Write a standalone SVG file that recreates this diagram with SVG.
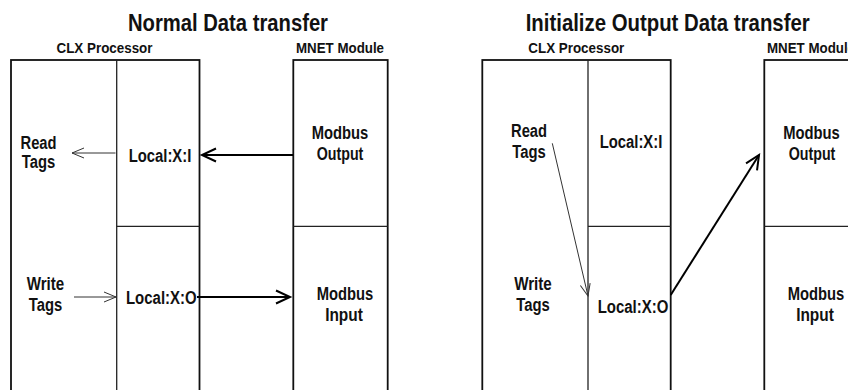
<svg xmlns="http://www.w3.org/2000/svg" width="848" height="390" viewBox="0 0 848 390">
<style>
text{font-family:"Liberation Sans",Arial,sans-serif;font-weight:bold;fill:#111;text-anchor:middle}
.title{font-size:24px}
.hdr{font-size:15.5px}
.lbl{font-size:18px}
.box{fill:none;stroke:#111;stroke-width:1.8}
.mid{fill:none;stroke:#222;stroke-width:1.3}
.thin{stroke:#333;stroke-width:1;fill:none}
.thick{stroke:#000;stroke-width:2;fill:none}
</style>
<defs>
<marker id="ah-thin" markerUnits="userSpaceOnUse" markerWidth="16" markerHeight="14" refX="12" refY="5" orient="auto" overflow="visible">
<path d="M0,0 L12,5 L0,10" fill="none" stroke="#333" stroke-width="1"/>
</marker>
<marker id="ah-thick" markerUnits="userSpaceOnUse" markerWidth="18" markerHeight="16" refX="14" refY="6.5" orient="auto" overflow="visible">
<path d="M0,0 L14,6.5 L0,13" fill="none" stroke="#000" stroke-width="2"/>
</marker>
</defs>

<g id="title-left"><text class="title" x="228" y="30.5" textLength="200" lengthAdjust="spacingAndGlyphs">Normal Data transfer</text></g>
<g id="title-right"><text class="title" x="667.7" y="30.5" textLength="284" lengthAdjust="spacingAndGlyphs">Initialize Output Data transfer</text></g>

<!-- Left diagram -->
<g id="clx-left">
<text class="hdr" x="104.5" y="52.5" textLength="96" lengthAdjust="spacingAndGlyphs">CLX Processor</text>
<rect class="box" x="11" y="60" width="188.5" height="340"/>
<text class="lbl" x="38.5" y="149" textLength="36" lengthAdjust="spacingAndGlyphs">Read</text>
<text class="lbl" x="38.5" y="168" textLength="33.5" lengthAdjust="spacingAndGlyphs">Tags</text>
<text class="lbl" x="45.5" y="290" textLength="37.6" lengthAdjust="spacingAndGlyphs">Write</text>
<text class="lbl" x="45.5" y="311" textLength="33.5" lengthAdjust="spacingAndGlyphs">Tags</text>
</g>
<g id="local-i-left">
<line class="mid" x1="116.7" y1="60" x2="116.7" y2="400"/>
<text class="lbl" x="160" y="161.5" textLength="62.7" lengthAdjust="spacingAndGlyphs">Local:X:I</text>
</g>
<g id="local-o-left">
<line class="mid" x1="116.7" y1="226.3" x2="199.5" y2="226.3"/>
<text class="lbl" x="161.3" y="304" textLength="70.7" lengthAdjust="spacingAndGlyphs">Local:X:O</text>
</g>
<g id="mnet-left">
<text class="hdr" x="340" y="53" textLength="88" lengthAdjust="spacingAndGlyphs">MNET Module</text>
<rect class="box" x="293.3" y="60" width="94.4" height="340"/>
</g>
<g id="mnet-out-left">
<text class="lbl" x="340" y="139" textLength="56.7" lengthAdjust="spacingAndGlyphs">Modbus</text>
<text class="lbl" x="340" y="159.5" textLength="46.7" lengthAdjust="spacingAndGlyphs">Output</text>
</g>
<g id="mnet-in-left">
<line class="mid" x1="293.3" y1="226.3" x2="387.7" y2="226.3"/>
<text class="lbl" x="345" y="300" textLength="56.7" lengthAdjust="spacingAndGlyphs">Modbus</text>
<text class="lbl" x="344" y="320.5" textLength="37.7" lengthAdjust="spacingAndGlyphs">Input</text>
</g>

<!-- Right diagram -->
<g id="clx-right">
<text class="hdr" x="576.3" y="52.5" textLength="96" lengthAdjust="spacingAndGlyphs">CLX Processor</text>
<rect class="box" x="482.3" y="60" width="188.4" height="340"/>
<text class="lbl" x="529" y="136.5" textLength="36" lengthAdjust="spacingAndGlyphs">Read</text>
<text class="lbl" x="529" y="157.5" textLength="33.5" lengthAdjust="spacingAndGlyphs">Tags</text>
<text class="lbl" x="533" y="290" textLength="37.6" lengthAdjust="spacingAndGlyphs">Write</text>
<text class="lbl" x="533" y="311" textLength="33.5" lengthAdjust="spacingAndGlyphs">Tags</text>
</g>
<g id="local-i-right">
<line class="mid" x1="588" y1="60" x2="588" y2="400"/>
<text class="lbl" x="631" y="148.3" textLength="62.7" lengthAdjust="spacingAndGlyphs">Local:X:I</text>
</g>
<g id="local-o-right">
<line class="mid" x1="588" y1="226.3" x2="670.7" y2="226.3"/>
<text class="lbl" x="633" y="313" textLength="70.7" lengthAdjust="spacingAndGlyphs">Local:X:O</text>
</g>
<g id="mnet-right">
<text class="hdr" x="811" y="53" textLength="88" lengthAdjust="spacingAndGlyphs">MNET Module</text>
<rect class="box" x="764.3" y="60" width="94.4" height="340"/>
</g>
<g id="mnet-out-right">
<text class="lbl" x="811.5" y="139" textLength="56.7" lengthAdjust="spacingAndGlyphs">Modbus</text>
<text class="lbl" x="812" y="159.5" textLength="46.7" lengthAdjust="spacingAndGlyphs">Output</text>
</g>
<g id="mnet-in-right">
<line class="mid" x1="764.3" y1="226.3" x2="850" y2="226.3"/>
<text class="lbl" x="816" y="300" textLength="56.7" lengthAdjust="spacingAndGlyphs">Modbus</text>
<text class="lbl" x="815" y="320.5" textLength="37.7" lengthAdjust="spacingAndGlyphs">Input</text>
</g>

<g id="connectors">
<line class="thin" x1="115.5" y1="153" x2="72" y2="153" marker-end="url(#ah-thin)"/>
<line class="thick" x1="293" y1="155" x2="202" y2="155" marker-end="url(#ah-thick)"/>
<line class="thin" x1="74" y1="297" x2="116" y2="297" marker-end="url(#ah-thin)"/>
<line class="thick" x1="197" y1="297" x2="290" y2="297" marker-end="url(#ah-thick)"/>
<line class="thin" x1="552.3" y1="143.3" x2="588" y2="296" marker-end="url(#ah-thin)"/>
<line class="thick" x1="670.7" y1="295" x2="759" y2="155" marker-end="url(#ah-thick)"/>
</g>
</svg>
